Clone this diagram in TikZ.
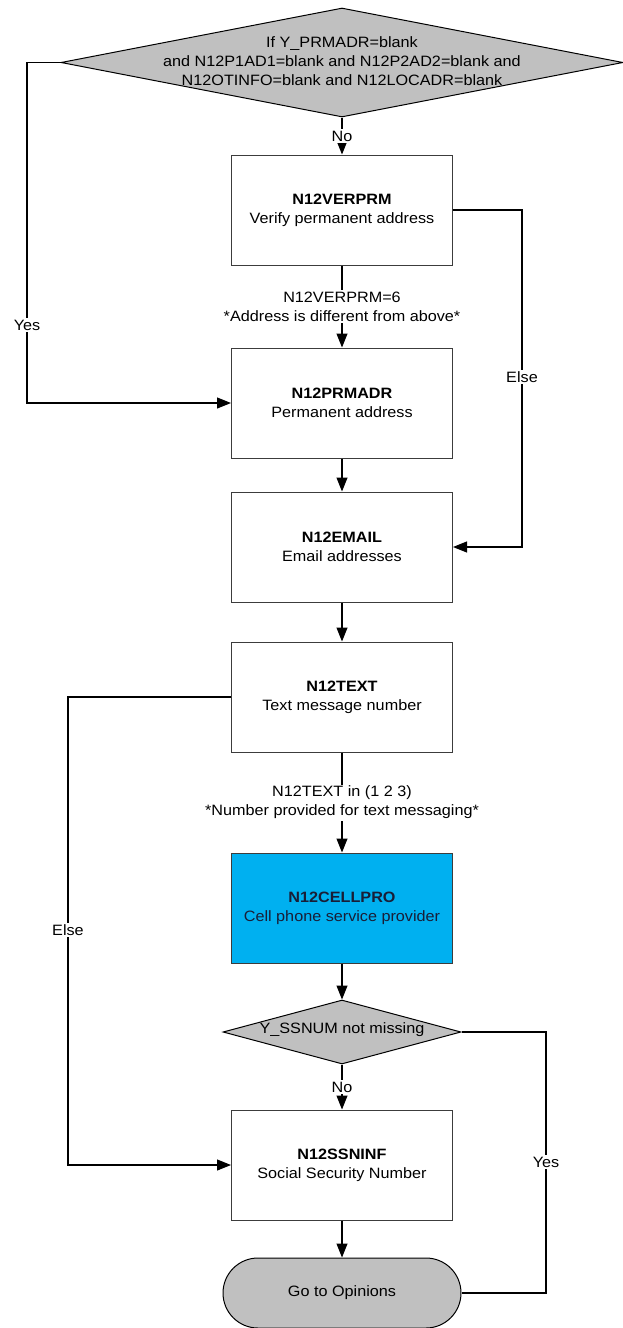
\documentclass[tikz,border=0pt]{standalone}
\usepackage{fontspec}
\setmainfont{Liberation Sans}[FakeStretch=1.08]
\usetikzlibrary{shapes.geometric,arrows.meta}
\definecolor{dgray}{RGB}{192,192,192}
\definecolor{cellblue}{RGB}{0,176,240}
\definecolor{edge}{RGB}{60,60,60}
\definecolor{navy}{RGB}{25,30,55}
\newcommand{\fs}{\fontsize{15}{19}\selectfont}
\begin{document}
\begin{tikzpicture}[x=1pt,y=-1pt,
  font=\fs,
  stepbox/.style={draw=edge,line width=1pt,minimum width=221pt,minimum height=110pt,inner sep=0pt,align=center},
  dec/.style={shape=diamond,draw=black,line width=1pt,fill=dgray,inner sep=0pt},
  term/.style={draw=black,line width=1pt,fill=dgray,rounded corners=35pt,minimum width=238pt,minimum height=70pt,inner sep=0pt},
  arr/.style={line width=1.1pt,-{Triangle[length=14pt,width=11pt]}},
  ln/.style={line width=1.1pt},
  lbl/.style={fill=white,inner sep=1.5pt,align=center}]
\useasboundingbox (0,0) rectangle (623,1328);

% decisions and boxes
\node[dec,minimum width=562pt,minimum height=109pt] (d1) at (342,62.5) {};
\node[align=center] (d1t) at (342,61) {If Y\_PRMADR=blank\\and N12P1AD1=blank and N12P2AD2=blank and\\N12OTINFO=blank and N12LOCADR=blank};

\node[stepbox] (verprm) at (342,210) {\textbf{N12VERPRM}\\Verify permanent address};
\node[stepbox] (prmadr) at (342,403) {\textbf{N12PRMADR}\\Permanent address};
\node[stepbox] (email) at (342,547) {\textbf{N12EMAIL}\\Email addresses};
\node[stepbox] (text) at (342,697) {\textbf{N12TEXT}\\Text message number};
\node[stepbox,fill=cellblue,text=navy] (cell) at (342,908) {\textbf{N12CELLPRO}\\Cell phone service provider};

\node[dec,minimum width=238pt,minimum height=64pt] (d2) at (342,1032) {};
\node (d2t) at (342,1030) {Y\_SSNUM not missing};

\node[stepbox] (ssn) at (342,1165) {\textbf{N12SSNINF}\\Social Security Number};
\node[term] (end) at (342,1293) {Go to Opinions};

% helper x positions
\coordinate (yesx) at (27,0);
\coordinate (elsr) at (522,0);
\coordinate (elsl) at (68,0);
\coordinate (yesr) at (546,0);

% connectors
\draw[arr] (d1.south) -- node[lbl] (lno1) {No} (verprm.north);
\draw[arr] (verprm.south) -- node[lbl] (lv6) {N12VERPRM=6\\*Address is different from above*} (prmadr.north);
\draw[arr] (prmadr.south) -- (email.north);
\draw[arr] (email.south) -- (text.north);
\draw[arr] (text.south) -- node[lbl] (ltx) {N12TEXT in (1 2 3)\\*Number provided for text messaging*} (cell.north);
\draw[arr] (cell.south) -- (d2.north);
\draw[arr] (d2.south) -- node[lbl] (lno2) {No} (ssn.north);
\draw[arr] (ssn.south) -- (end.north);

\draw[arr] (d1.west) -- (d1.west -| yesx) -- (prmadr.west -| yesx) -- (prmadr.west);
\node[lbl] (lyes1) at (27,325) {Yes};

\draw[arr] (verprm.east) -- (verprm.east -| elsr) -- (email.east -| elsr) -- (email.east);
\node[lbl] (lelse1) at (522,377) {Else};

\draw[arr] (text.west) -- (text.west -| elsl) -- (ssn.west -| elsl) -- (ssn.west);
\node[lbl] (lelse2) at (68,930) {Else};

\draw[ln] (d2.east) -- (d2.east -| yesr) -- (end.east -| yesr) -- (end.east);
\node[lbl] (lyes2) at (546,1162) {Yes};
\end{tikzpicture}
\end{document}
